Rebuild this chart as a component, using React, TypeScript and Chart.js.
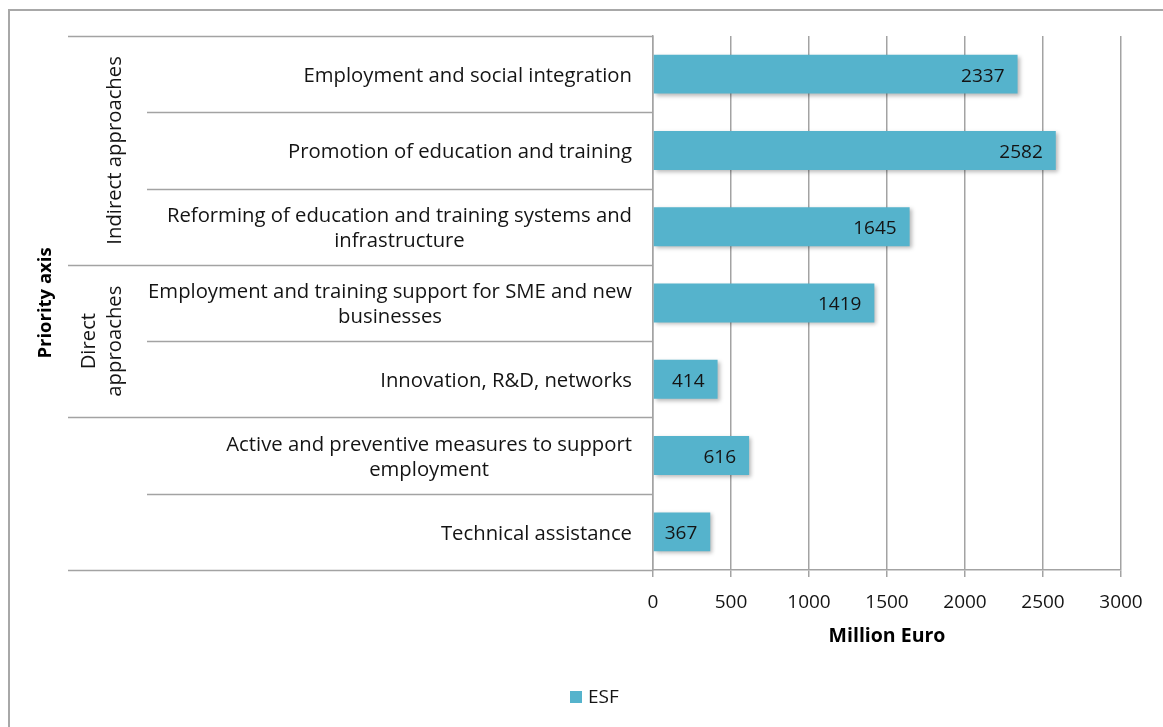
import React, { useEffect, useRef } from 'react';
import { Chart, registerables } from 'chart.js';

Chart.register(...registerables);

const categories: string[][] = [
  ['Employment and social integration'],
  ['Promotion of education and training'],
  ['Reforming of education and training systems and', 'infrastructure'],
  ['Employment and training support for SME and new', 'businesses'],
  ['Innovation, R&D, networks'],
  ['Active and preventive measures to support', 'employment'],
  ['Technical assistance'],
];
const esfValues: number[] = [2337, 2582, 1645, 1419, 414, 616, 367];
const seriesName = 'ESF';
const groupLabels: string[][] = [['Indirect approaches'], ['Direct', 'approaches'], []];
const groupStarts: number[] = [0, 3, 5];
const groupEnds: number[] = [2, 4, 6];
const xMin = 0;
const xMax = 3000;
const xStep = 500;
const xTitle = 'Million Euro';
const yTitle = 'Priority axis';

const FONT = '"Open Sans", "Noto Sans", sans-serif';
const FS = 19;
const FS_CAT = 20.3;
const BAR_COLOR = '#55b3cc';
const LINE_COLOR = '#a3a3a3';
const TEXT_COLOR = '#141414';

const tablePlugin = {
  id: 'tablePlugin',
  beforeDraw(chart: any) {
    const ctx = chart.ctx;
    ctx.save();
    ctx.fillStyle = '#ffffff';
    ctx.fillRect(0, 0, chart.width, chart.height);
    ctx.strokeStyle = '#a8a8a8';
    ctx.lineWidth = 2;
    ctx.beginPath();
    ctx.moveTo(9, chart.height + 5);
    ctx.lineTo(9, 10);
    ctx.lineTo(chart.width + 5, 10);
    ctx.stroke();
    ctx.restore();
  },
  beforeDatasetsDraw(chart: any) {
    const ctx = chart.ctx;
    ctx.save();
    ctx.shadowColor = 'rgba(0,0,0,0.28)';
    ctx.shadowBlur = 4;
    ctx.shadowOffsetX = 2;
    ctx.shadowOffsetY = 2;
  },
  afterDatasetsDraw(chart: any) {
    const ctx = chart.ctx;
    ctx.restore();
    // data labels
    const meta = chart.getDatasetMeta(0);
    ctx.save();
    ctx.font = `${FS}px ${FONT}`;
    ctx.fillStyle = TEXT_COLOR;
    ctx.textAlign = 'right';
    ctx.textBaseline = 'middle';
    meta.data.forEach((el: any, i: number) => {
      ctx.fillText(String(chart.data.datasets[0].data[i]), el.x - 13, el.y + 2);
    });
    ctx.restore();
  },
  afterDraw(chart: any) {
    const ctx = chart.ctx;
    const ys = chart.scales.y;
    const area = chart.chartArea;
    const n = categories.length;
    const bound = (k: number) => ys.getPixelForValue(k - 0.5);

    ctx.save();
    // table lines
    ctx.strokeStyle = LINE_COLOR;
    ctx.lineWidth = 1.5;
    for (let k = 0; k <= n; k++) {
      const isGroup = k === 0 || k === n || groupStarts.includes(k);
      const x0 = isGroup ? 68 : 147;
      const yy = Math.round(bound(k)) + 0.5;
      ctx.beginPath();
      ctx.moveTo(x0, yy);
      ctx.lineTo(area.left, yy);
      ctx.stroke();
    }

    // category labels
    ctx.font = `${FS_CAT}px ${FONT}`;
    ctx.fillStyle = TEXT_COLOR;
    ctx.textAlign = 'center';
    ctx.textBaseline = 'middle';
    const lh = 25;
    categories.forEach((lines, i) => {
      const cy = ys.getPixelForValue(i) + 2;
      const maxW = Math.max(...lines.map((l) => ctx.measureText(l).width));
      const cx = area.left - 21 - maxW / 2;
      lines.forEach((l, j) => {
        ctx.fillText(l, cx, cy + (j - (lines.length - 1) / 2) * lh);
      });
    });

    // group labels (rotated)
    groupLabels.forEach((lines, g) => {
      if (!lines.length) return;
      const cy = (bound(groupStarts[g]) + bound(groupEnds[g] + 1)) / 2;
      const lastX = 115;
      lines.forEach((l, j) => {
        const x = lastX - (lines.length - 1 - j) * 26;
        ctx.save();
        ctx.translate(x, cy);
        ctx.rotate(-Math.PI / 2);
        ctx.fillText(l, 0, 0);
        ctx.restore();
      });
    });

    // y title
    ctx.font = `bold 18.5px ${FONT}`;
    ctx.fillStyle = '#000';
    ctx.save();
    ctx.translate(46, (area.top + area.bottom) / 2);
    ctx.rotate(-Math.PI / 2);
    ctx.fillText(yTitle, 0, 0);
    ctx.restore();

    // legend
    const lx = 570;
    const ly = 697;
    ctx.fillStyle = BAR_COLOR;
    ctx.fillRect(lx, ly - 6, 12, 12);
    ctx.font = `${FS}px ${FONT}`;
    ctx.fillStyle = TEXT_COLOR;
    ctx.textAlign = 'left';
    ctx.fillText(chart.data.datasets[0].label, lx + 18, ly + 1);
    ctx.restore();
  },
};

export default function App() {
  const ref = useRef<HTMLCanvasElement | null>(null);
  useEffect(() => {
    if (!ref.current) return;
    const chart = new Chart(ref.current, {
      type: 'bar',
      data: {
        labels: categories.map((c) => c.join(' ')),
        datasets: [
          {
            label: seriesName,
            data: esfValues,
            backgroundColor: BAR_COLOR,
            borderWidth: 0,
            barPercentage: 0.51,
            categoryPercentage: 1,
          },
        ],
      },
      options: {
        indexAxis: 'y',
        animation: false,
        responsive: false,
        maintainAspectRatio: false,
        devicePixelRatio: 1,
        layout: { padding: { left: 0, right: 42, top: 36, bottom: 77 } },
        plugins: {
          legend: { display: false },
          tooltip: { enabled: false },
        },
        scales: {
          x: {
            type: 'linear',
            position: 'bottom',
            min: xMin,
            max: xMax,
            ticks: {
              stepSize: xStep,
              color: TEXT_COLOR,
              font: { family: FONT, size: FS },
              padding: 14,
              callback: (v: any) => String(v),
            },
            grid: {
              color: LINE_COLOR,
              lineWidth: 1.5,
              tickLength: 7,
              drawTicks: true,
            },
            border: { display: true, color: LINE_COLOR, width: 1.5 },
            title: {
              display: true,
              text: xTitle,
              color: '#000',
              font: { family: FONT, size: 19.5, weight: 'bold' },
              padding: { top: 0, bottom: 2 },
            },
            afterFit: (scale: any) => {
              scale.height = 80;
            },
          },
          y: {
            type: 'category',
            ticks: { display: false },
            grid: { display: false, drawTicks: false },
            border: { display: true, color: LINE_COLOR, width: 1.5 },
            afterFit: (scale: any) => {
              scale.width = 653;
            },
          },
        },
      },
      plugins: [tablePlugin],
    } as any);
    return () => chart.destroy();
  }, []);
  return (
    <div style={{ position: 'absolute', left: 0, top: 0, width: 1163, height: 727, background: '#fff' }}>
      <canvas ref={ref} width={1163} height={727} style={{ width: 1163, height: 727, display: 'block' }} />
    </div>
  );
}
